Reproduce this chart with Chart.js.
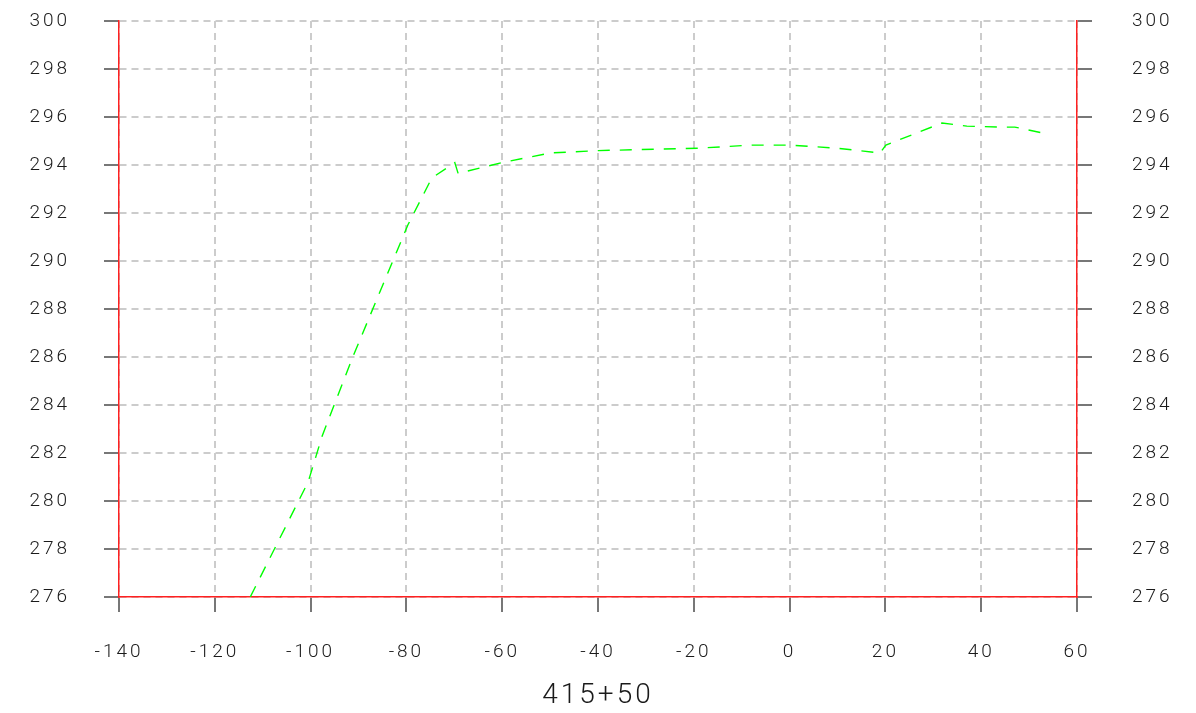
<!DOCTYPE html>
<html>
<head>
<meta charset="utf-8">
<script src="https://cdn.jsdelivr.net/npm/chart.js@4/dist/chart.umd.min.js"></script>
<style>
  html, body { margin: 0; padding: 0; background: #fff; }
  canvas { display: block; }
</style>
</head>
<body>
<canvas id="profil" width="1196" height="713"></canvas>
<script>
// profil du terrain (distance / altitude)
const distances = [-112.6, -100.5, -97.6, -91.2, -79.7, -75.1, -74.0, -69.9, -69.2, -60, -50, -40, -19, -8, 0, 10, 18.9, 20.1, 31.8, 37, 44, 47, 52.9];
const altitudes = [276, 280.8, 282.7, 286, 291.5, 293.3, 293.55, 294.1, 293.65, 294.1, 294.5, 294.6, 294.7, 294.83, 294.83, 294.7, 294.5, 294.83, 295.75, 295.62, 295.58, 295.58, 295.33];
const xTicks = [-140, -120, -100, -80, -60, -40, -20, 0, 20, 40, 60];
const yTicks = [276, 278, 280, 282, 284, 286, 288, 290, 292, 294, 296, 298, 300];
const titreAxe = '415+50';

const police = { family: 'Roboto', size: 19, weight: '300' };
const grille = { color: '#cccccc', lineWidth: 2, tickColor: '#777', tickLength: 15, tickWidth: 2 };

// espacement des lettres comme le dessin CAO
const espacement = {
  id: 'espacement',
  beforeDraw(chart) { chart.ctx.letterSpacing = '3px'; }
};

// largeur fixe des axes verticaux, sans marge haut/bas
const axeVertical = (s) => {
  s.width = 119;
  s.paddingTop = 0;
  s.paddingBottom = 0;
};

const ctx = document.getElementById('profil');

new Chart(ctx, {
  type: 'scatter',
  data: {
    datasets: [{
      data: distances.map((x, i) => ({ x: x, y: altitudes[i] })),
      showLine: true,
      borderColor: '#00ff00',
      borderWidth: 1.4,
      borderDash: [12, 10],
      pointRadius: 0,
      tension: 0,
      yAxisID: 'y'
    }]
  },
  plugins: [espacement],
  options: {
    responsive: false,
    animation: false,
    layout: { autoPadding: false, padding: { top: 21, left: 0, right: 0, bottom: 0 } },
    plugins: {
      legend: { display: false },
      tooltip: { enabled: false }
    },
    scales: {
      x: {
        type: 'linear',
        min: -140,
        max: 60,
        afterBuildTicks: (s) => { s.ticks = xTicks.map(v => ({ value: v })); },
        afterFit: (s) => { s.height = 116; },
        grid: grille,
        border: { color: '#ff2020', width: 1.5, dash: [7, 5] },
        ticks: { padding: 29, color: '#1a1a1a', font: police, maxRotation: 0 },
        title: { display: true, text: titreAxe, color: '#1a1a1a', font: { family: 'Roboto', size: 28, weight: '300' }, padding: { top: 0, bottom: 0 } }
      },
      y: {
        type: 'linear',
        position: 'left',
        min: 276,
        max: 300,
        afterBuildTicks: (s) => { s.ticks = yTicks.map(v => ({ value: v })); },
        afterFit: axeVertical,
        grid: grille,
        border: { color: '#ff2020', width: 1.5, dash: [7, 5] },
        ticks: { padding: 34, color: '#1a1a1a', font: police }
      },
      y2: {
        type: 'linear',
        position: 'right',
        min: 276,
        max: 300,
        afterBuildTicks: (s) => { s.ticks = yTicks.map(v => ({ value: v })); },
        afterFit: axeVertical,
        grid: Object.assign({}, grille, { drawOnChartArea: false }),
        border: { color: '#ff2020', width: 1.5 },
        ticks: { padding: 40, color: '#1a1a1a', font: police }
      }
    }
  }
});
</script>
</body>
</html>
